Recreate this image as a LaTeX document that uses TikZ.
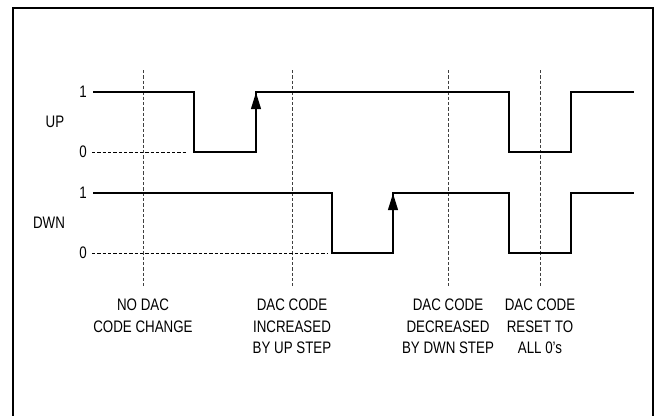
\documentclass[tikz,border=0pt]{standalone}
\usepackage{fontspec}
\setmainfont{Liberation Sans}[FakeStretch=0.8]
\usepackage{tikz}
\usetikzlibrary{arrows.meta,positioning}
\tikzstyle{frame} = [line width=1.5pt, black]
\tikzstyle{wave} = [line width=1pt, black, line join=miter]
\tikzstyle{zero} = [line width=0.6pt, black, dash pattern=on 2.4pt off 1.6pt]
\tikzstyle{marker} = [line width=0.6pt, black!75, dash pattern=on 2.4pt off 1.6pt]
\tikzstyle{level} = [inner sep=0pt, font=\fontsize{12.5}{16}\selectfont]
\tikzstyle{caption} = [inner sep=0pt, align=center, anchor=north, font=\fontsize{12.5}{16.1}\selectfont]
\tikzstyle{rise} = [wave, -{Triangle[length=12.5pt, width=7.5pt]}]

\begin{document}
\begin{tikzpicture}[x=0.75pt, y=-0.75pt]
	\useasboundingbox (0,0) rectangle (656,415);
	\draw[frame] (13,416) -- (13,8) -- (653,8) -- (653,416);
	
	% level labels
	\node[level, anchor=east] (up1) at (87,92) {1};
	\node[level, anchor=east] (up0) at (87,152) {0};
	\node[level] (up) at (55,122) {UP};
	\node[level, anchor=east] (dwn1) at (87,193) {1};
	\node[level, anchor=east] (dwn0) at (87,253) {0};
	\node[level] (dwn) at (49,223) {DWN};
	
	% dashed markers
	\foreach \name/\x in {nochange/143, upstep/292, dwnstep/448, reset/540}{
		\coordinate (\name top) at (\x,70);
		\coordinate (\name bot) at (\x,286);
		\draw[marker] (\name top) -- (\name bot);
	}
	
	% captions
	\node[caption] (cnochange) at (143,299) {NO DAC\\CODE CHANGE};
	\node[caption] (cupstep) at (292,299) {DAC CODE\\INCREASED\\BY UP STEP};
	\node[caption] (cdwnstep) at (448,299) {DAC CODE\\DECREASED\\BY DWN STEP};
	\node[caption] (creset) at (540,299) {DAC CODE\\RESET TO\\ALL 0's};
	
	% zero levels
	\draw[zero] (up0.east) ++(5,0) -- (187,152);
	\draw[zero] (dwn0.east) ++(5,0) -- (327,253);
	
	% waveforms
	\draw[wave] (93,92) -- (194,92) -- (194,152) -- (256,152) -- (256,92) -- (509,92) -- (509,152) -- (571,152) -- (571,92) -- (634,92);
	\draw[wave] (93,193) -- (332,193) -- (332,253) -- (393,253) -- (393,193) -- (509,193) -- (509,253) -- (571,253) -- (571,193) -- (634,193);
	
	%arrow
	\draw[rise] (256,140) -- (256,92.5);
	\draw[rise] (393,241) -- (393,193.5);
\end{tikzpicture}
\end{document}
